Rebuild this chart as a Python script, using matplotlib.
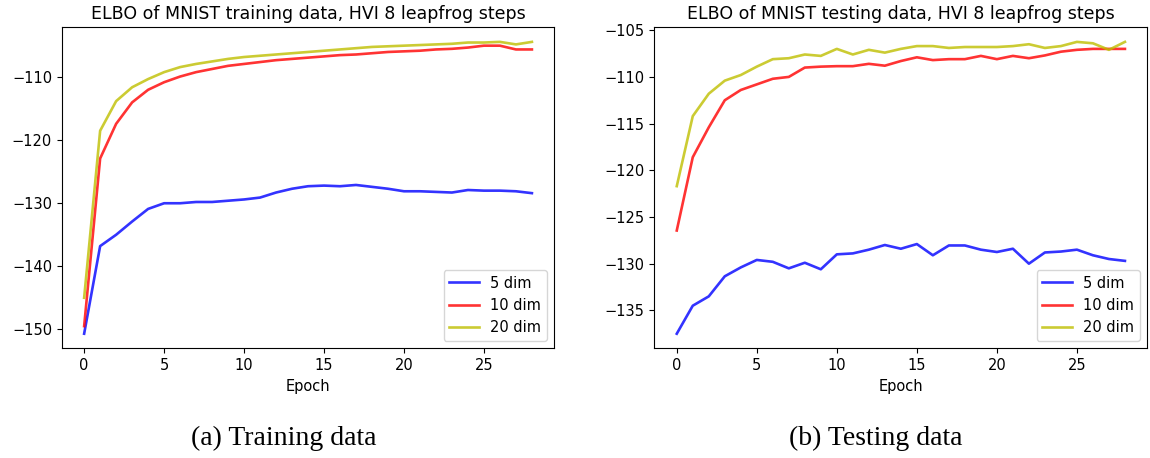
import numpy as np
import matplotlib
matplotlib.use('Agg')
import matplotlib.pyplot as plt

# Epochs 0..28
epochs = np.arange(29)

# ELBO on training data
train_5 = [-150.7, -136.8, -135.0, -132.9, -130.9, -130.0, -130.0, -129.8, -129.8, -129.6,
           -129.4, -129.1, -128.3, -127.7, -127.3, -127.2, -127.3, -127.1, -127.4, -127.7,
           -128.1, -128.1, -128.2, -128.3, -127.9, -128.0, -128.0, -128.1, -128.4]
train_10 = [-149.5, -122.9, -117.4, -114.0, -112.0, -110.8, -109.9, -109.2, -108.7, -108.2,
            -107.9, -107.6, -107.3, -107.1, -106.9, -106.7, -106.5, -106.4, -106.2, -106.0,
            -105.9, -105.8, -105.6, -105.5, -105.3, -105.0, -105.0, -105.6, -105.6]
train_20 = [-145.0, -118.5, -113.8, -111.6, -110.3, -109.2, -108.4, -107.9, -107.5, -107.1,
            -106.8, -106.6, -106.4, -106.2, -106.0, -105.8, -105.6, -105.4, -105.2, -105.1,
            -105.0, -104.9, -104.8, -104.7, -104.5, -104.5, -104.4, -104.8, -104.4]

# ELBO on testing data
test_5 = [-137.5, -134.5, -133.5, -131.35, -130.4, -129.6, -129.8, -130.5, -129.9, -130.6,
          -129.0, -128.9, -128.5, -128.0, -128.4, -127.9, -129.1, -128.05, -128.05, -128.5,
          -128.75, -128.4, -130.0, -128.8, -128.7, -128.5, -129.1, -129.5, -129.7]
test_10 = [-126.45, -118.6, -115.4, -112.5, -111.4, -110.8, -110.2, -110.0, -109.0, -108.9,
           -108.85, -108.85, -108.6, -108.8, -108.3, -107.9, -108.2, -108.1, -108.1, -107.75,
           -108.1, -107.75, -108.0, -107.7, -107.3, -107.1, -107.0, -107.0, -107.0]
test_20 = [-121.7, -114.2, -111.8, -110.4, -109.8, -108.9, -108.1, -108.0, -107.6, -107.75,
           -107.0, -107.6, -107.1, -107.4, -107.0, -106.7, -106.7, -106.9, -106.8, -106.8,
           -106.8, -106.7, -106.5, -106.9, -106.7, -106.25, -106.4, -107.1, -106.25]

labels = ['5 dim', '10 dim', '20 dim']
colors = ['b', 'r', 'y']

fig = plt.figure(figsize=(11.5, 4.58), dpi=100)
ax1 = fig.add_axes([0.0537, 0.2395, 0.4283, 0.7009])
ax2 = fig.add_axes([0.569, 0.2395, 0.4287, 0.7009])

panels = [
    (ax1, [train_5, train_10, train_20], 'ELBO of MNIST training data, HVI 8 leapfrog steps'),
    (ax2, [test_5, test_10, test_20], 'ELBO of MNIST testing data, HVI 8 leapfrog steps'),
]

for ax, series, title in panels:
    for vals, lab, c in zip(series, labels, colors):
        ax.plot(epochs, vals, color=c, alpha=0.8, linewidth=1.9, label=lab)
    ax.set_title(title, fontsize=12.5)
    ax.set_xlabel('Epoch', fontsize=10.5)
    ax.tick_params(labelsize=10.5)
    ax.legend(loc='lower right', fontsize=10.5)

# Sub-captions below the panels
fig.text(284 / 1150, 0.028, '(a) Training data', ha='center', va='baseline',
         family='Liberation Serif', fontsize=20)
fig.text(876 / 1150, 0.028, '(b) Testing data', ha='center', va='baseline',
         family='Liberation Serif', fontsize=20)

fig.savefig('out.png', dpi=100)
